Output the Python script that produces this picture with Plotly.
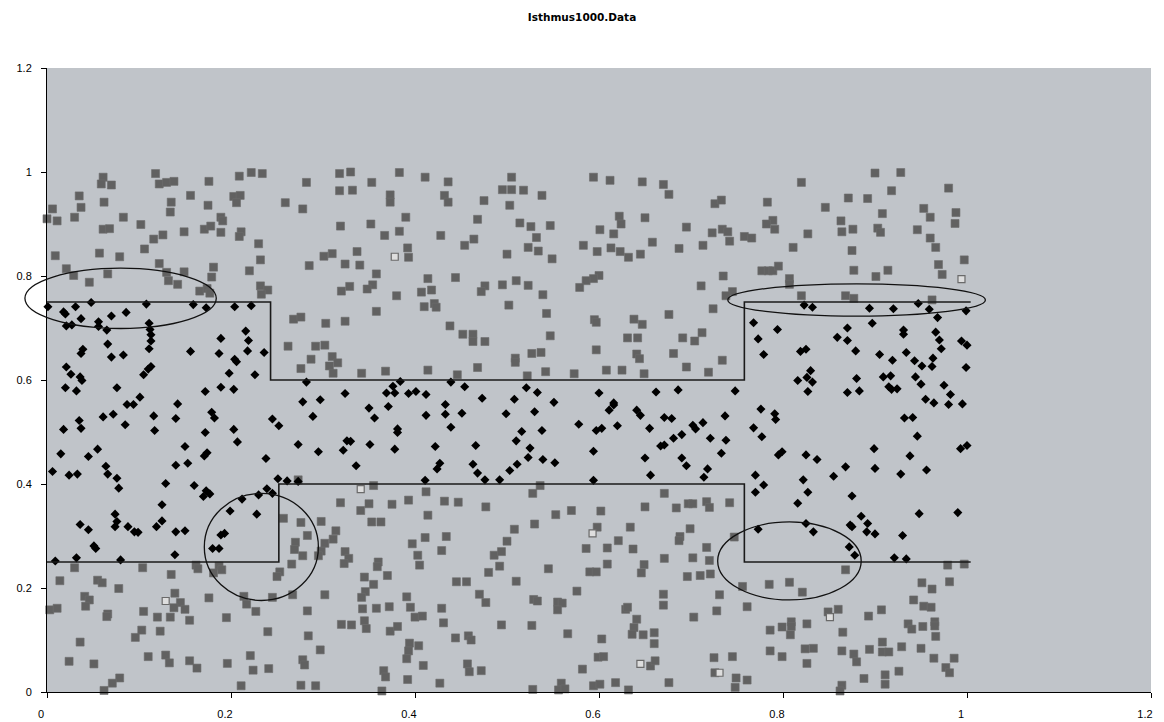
import plotly.graph_objects as go

# Points outside the isthmus (class 0)
gray_points = [
    (0.061,0.990),(0.059,0.977),(0.070,0.975),(0.118,0.997),(0.122,0.977),(0.130,0.980),(0.138,0.982),
    (0.176,0.982),(0.209,0.992),(0.222,0.999),(0.234,0.997),(0.035,0.954),(0.006,0.929),(0.037,0.932),
    (0.062,0.942),(0.156,0.955),(0.135,0.942),(0.134,0.923),(0.175,0.936),(0.203,0.953),(0.210,0.955),
    (0.206,0.941),(0.000,0.910),(0.011,0.906),(0.030,0.913),(0.083,0.913),(0.102,0.899),(0.061,0.890),
    (0.068,0.891),(0.189,0.913),(0.191,0.906),(0.149,0.885),(0.171,0.890),(0.178,0.896),(0.189,0.884),
    (0.126,0.879),(0.116,0.871),(0.211,0.885),(0.209,0.876),(0.230,0.862),(0.009,0.839),(0.057,0.844),
    (0.079,0.837),(0.106,0.852),(0.232,0.831),(0.021,0.814),(0.029,0.801),(0.046,0.788),(0.066,0.804),
    (0.122,0.824),(0.130,0.807),(0.132,0.791),(0.142,0.784),(0.149,0.808),(0.181,0.817),(0.179,0.798),
    (0.166,0.771),(0.174,0.776),(0.177,0.767),(0.220,0.810),(0.232,0.781),(0.240,0.773),(0.233,0.765),
    (0.318,0.997),(0.330,1.000),(0.383,0.999),(0.411,0.990),(0.436,0.981),(0.282,0.980),(0.318,0.964),
    (0.332,0.965),(0.353,0.980),(0.373,0.956),(0.373,0.942),(0.432,0.955),(0.436,0.942),(0.475,0.945),
    (0.495,0.966),(0.259,0.941),(0.278,0.929),(0.319,0.896),(0.352,0.900),(0.390,0.913),(0.367,0.878),
    (0.383,0.886),(0.428,0.878),(0.468,0.909),(0.454,0.859),(0.464,0.871),(0.301,0.838),(0.310,0.843),
    (0.337,0.847),(0.324,0.823),(0.340,0.821),(0.285,0.820),(0.392,0.854),(0.393,0.836),(0.358,0.804),
    (0.414,0.795),(0.444,0.797),(0.495,0.783),(0.476,0.781),(0.472,0.770),(0.329,0.780),(0.320,0.771),
    (0.354,0.783),(0.348,0.775),(0.380,0.762),(0.407,0.769),(0.418,0.773),(0.410,0.741),(0.421,0.747),
    (0.423,0.740),(0.358,0.732),(0.268,0.717),(0.276,0.721),(0.303,0.709),(0.324,0.713),(0.438,0.704),
    (0.452,0.688),(0.463,0.688),(0.463,0.674),(0.476,0.674),
    (0.505,0.990),(0.505,0.966),(0.518,0.965),(0.538,0.955),(0.503,0.936),(0.594,0.990),(0.612,0.984),
    (0.647,0.981),(0.670,0.976),(0.676,0.957),(0.726,0.939),(0.733,0.946),(0.514,0.902),(0.526,0.895),
    (0.547,0.897),(0.532,0.874),(0.523,0.855),(0.534,0.848),(0.500,0.842),(0.549,0.833),(0.622,0.915),
    (0.624,0.900),(0.650,0.912),(0.601,0.889),(0.616,0.881),(0.583,0.859),(0.598,0.847),(0.613,0.854),
    (0.623,0.847),(0.632,0.836),(0.645,0.842),(0.658,0.865),(0.695,0.894),(0.687,0.853),(0.713,0.859),
    (0.723,0.883),(0.734,0.890),(0.740,0.885),(0.742,0.867),(0.600,0.801),(0.594,0.795),(0.586,0.791),
    (0.579,0.778),(0.510,0.791),(0.523,0.782),(0.539,0.764),(0.502,0.744),(0.543,0.728),(0.735,0.800),
    (0.711,0.781),(0.745,0.770),(0.738,0.762),(0.724,0.737),(0.676,0.726),(0.595,0.716),(0.597,0.711),
    (0.638,0.717),(0.647,0.707),(0.631,0.681),(0.642,0.681),(0.547,0.685),(0.691,0.681),(0.712,0.691),
    (0.704,0.675),
    (0.900,0.998),(0.928,0.999),(0.820,0.980),(0.918,0.964),(0.980,0.969),(0.783,0.942),(0.871,0.950),
    (0.892,0.949),(0.846,0.932),(0.908,0.920),(0.953,0.930),(0.960,0.913),(0.988,0.922),(0.987,0.901),
    (0.789,0.907),(0.782,0.900),(0.791,0.890),(0.863,0.906),(0.864,0.885),(0.876,0.890),(0.903,0.892),
    (0.906,0.884),(0.946,0.889),(0.960,0.873),(0.758,0.876),(0.766,0.873),(0.827,0.881),(0.811,0.855),
    (0.875,0.849),(0.966,0.855),(0.997,0.831),(0.969,0.822),(0.973,0.803),(0.777,0.810),(0.784,0.810),
    (0.789,0.810),(0.795,0.819),(0.807,0.795),(0.807,0.784),(0.877,0.811),(0.901,0.799),(0.914,0.811),
    (0.820,0.762),(0.868,0.762),(0.877,0.757),(0.962,0.754),
    (0.262,0.665),(0.292,0.665),(0.302,0.667),(0.287,0.640),(0.276,0.622),(0.310,0.645),(0.316,0.633),
    (0.307,0.627),(0.311,0.613),(0.342,0.613),(0.368,0.617),(0.414,0.619),(0.446,0.610),(0.468,0.624),
    (0.273,0.408),(0.355,0.397),(0.412,0.385),(0.319,0.364),(0.350,0.362),(0.341,0.349),(0.375,0.361),
    (0.393,0.369),(0.432,0.367),(0.447,0.365),(0.477,0.356),(0.414,0.340),(0.257,0.334),(0.276,0.326),
    (0.298,0.328),(0.353,0.327),(0.363,0.327),
    (0.509,0.642),(0.509,0.634),(0.527,0.651),(0.537,0.653),(0.522,0.608),(0.542,0.616),(0.573,0.612),
    (0.597,0.658),(0.608,0.619),(0.625,0.619),(0.641,0.650),(0.644,0.641),(0.649,0.612),(0.681,0.651),
    (0.695,0.625),(0.719,0.615),(0.734,0.638),
    (0.536,0.397),(0.528,0.382),(0.671,0.382),(0.650,0.356),(0.684,0.354),(0.697,0.362),(0.702,0.362),
    (0.717,0.366),(0.720,0.355),(0.742,0.364),(0.553,0.341),(0.570,0.349),(0.602,0.348),
    (0.030,0.239),(0.104,0.239),(0.135,0.226),(0.162,0.244),(0.164,0.237),(0.187,0.242),(0.190,0.235),
    (0.181,0.229),(0.014,0.214),(0.055,0.215),(0.060,0.210),(0.078,0.199),(0.041,0.184),(0.046,0.177),
    (0.042,0.165),(0.139,0.190),(0.145,0.172),(0.138,0.162),(0.150,0.159),(0.176,0.181),(0.003,0.158),
    (0.011,0.161),(0.066,0.150),(0.065,0.145),(0.105,0.155),(0.120,0.144),(0.134,0.144),(0.155,0.138),
    (0.195,0.143),(0.214,0.184),(0.217,0.169),(0.227,0.155),(0.240,0.116),(0.103,0.119),(0.096,0.105),
    (0.123,0.117),(0.036,0.096),(0.024,0.059),(0.051,0.054),(0.110,0.068),(0.129,0.071),(0.133,0.056),
    (0.155,0.060),(0.163,0.046),(0.196,0.055),(0.221,0.070),(0.224,0.042),(0.241,0.045),(0.079,0.027),
    (0.071,0.017),(0.062,0.003),(0.211,0.012),
    (0.314,0.310),(0.283,0.301),(0.270,0.288),(0.269,0.274),(0.278,0.262),(0.266,0.246),(0.253,0.231),
    (0.250,0.222),(0.302,0.286),(0.311,0.294),(0.298,0.271),(0.295,0.262),(0.324,0.270),(0.328,0.257),
    (0.323,0.247),(0.245,0.182),(0.267,0.187),(0.302,0.187),(0.283,0.156),(0.284,0.108),(0.297,0.081),
    (0.278,0.062),(0.280,0.052),(0.276,0.013),(0.292,0.012),(0.360,0.250),(0.359,0.241),(0.370,0.224),
    (0.345,0.221),(0.355,0.207),(0.346,0.193),(0.342,0.182),(0.343,0.160),(0.358,0.161),(0.372,0.164),
    (0.320,0.130),(0.331,0.129),(0.345,0.137),(0.347,0.122),(0.373,0.117),(0.381,0.126),(0.366,0.041),
    (0.368,0.029),(0.364,0.002),(0.391,0.183),(0.395,0.163),(0.400,0.144),(0.408,0.146),(0.397,0.285),
    (0.411,0.297),(0.434,0.299),(0.403,0.263),(0.405,0.244),(0.429,0.272),(0.445,0.212),(0.456,0.212),
    (0.429,0.161),(0.431,0.133),(0.470,0.188),(0.477,0.172),(0.480,0.230),(0.486,0.263),(0.494,0.270),
    (0.492,0.242),(0.394,0.094),(0.393,0.079),(0.391,0.064),(0.404,0.089),(0.409,0.051),(0.392,0.024),
    (0.427,0.017),(0.444,0.104),(0.458,0.108),(0.461,0.100),(0.457,0.054),(0.459,0.039),(0.472,0.041),
    (0.494,0.129),
    (0.530,0.323),(0.598,0.317),(0.634,0.317),(0.508,0.313),(0.500,0.290),(0.586,0.276),(0.609,0.277),
    (0.621,0.291),(0.637,0.275),(0.688,0.299),(0.687,0.291),(0.699,0.314),(0.671,0.257),(0.702,0.258),
    (0.717,0.278),(0.720,0.253),(0.747,0.298),(0.545,0.237),(0.590,0.231),(0.597,0.231),(0.609,0.246),
    (0.649,0.245),(0.646,0.229),(0.696,0.222),(0.710,0.224),(0.721,0.227),(0.510,0.213),(0.576,0.194),
    (0.529,0.178),(0.533,0.175),(0.555,0.173),(0.560,0.171),(0.555,0.158),(0.670,0.188),(0.670,0.167),
    (0.731,0.187),(0.728,0.156),(0.703,0.144),(0.629,0.159),(0.631,0.163),(0.641,0.140),(0.638,0.124),
    (0.636,0.111),(0.648,0.110),(0.660,0.114),(0.660,0.093),(0.527,0.128),(0.566,0.112),(0.603,0.102),
    (0.599,0.067),(0.605,0.068),(0.582,0.044),(0.656,0.050),(0.661,0.060),(0.725,0.066),(0.745,0.068),
    (0.726,0.037),(0.749,0.027),(0.748,0.009),(0.528,0.005),(0.559,0.017),(0.556,0.004),(0.563,0.006),
    (0.594,0.012),(0.601,0.015),(0.618,0.018),(0.632,0.004),(0.676,0.018),
    (0.868,0.235),(0.979,0.244),(0.997,0.246),(0.951,0.210),(0.962,0.198),(0.981,0.212),(0.756,0.203),
    (0.785,0.207),(0.807,0.211),(0.821,0.192),(0.761,0.164),(0.942,0.177),(0.953,0.165),(0.961,0.163),
    (0.849,0.154),(0.860,0.159),(0.907,0.158),(0.893,0.146),(0.786,0.119),(0.799,0.125),(0.809,0.135),
    (0.809,0.126),(0.808,0.110),(0.826,0.131),(0.865,0.115),(0.936,0.131),(0.940,0.121),(0.952,0.126),
    (0.965,0.135),(0.965,0.127),(0.966,0.107),(0.908,0.096),(0.929,0.087),(0.908,0.077),(0.915,0.077),
    (0.894,0.082),(0.786,0.079),(0.799,0.068),(0.824,0.083),(0.833,0.084),(0.864,0.079),(0.877,0.073),
    (0.880,0.058),(0.950,0.084),(0.964,0.065),(0.986,0.065),(0.977,0.047),(0.981,0.037),(0.826,0.055),
    (0.761,0.023),(0.926,0.040),(0.911,0.033),(0.911,0.015),(0.888,0.026),(0.864,0.013),(0.862,0.002),
]

# Points inside the isthmus (class 1)
black_points = [
    (0.001,0.741),(0.018,0.731),(0.020,0.727),(0.031,0.741),(0.048,0.749),(0.037,0.718),(0.070,0.723),
    (0.086,0.730),(0.108,0.746),(0.021,0.704),(0.027,0.706),(0.056,0.712),(0.056,0.703),(0.065,0.696),
    (0.111,0.709),(0.112,0.697),(0.113,0.687),(0.113,0.675),(0.159,0.745),(0.173,0.739),(0.204,0.741),
    (0.222,0.743),(0.189,0.680),(0.216,0.694),(0.219,0.676),
    (0.823,0.744),(0.832,0.740),(0.894,0.738),(0.920,0.737),(0.947,0.747),(0.959,0.736),(0.999,0.733),
    (0.968,0.720),(0.768,0.710),(0.794,0.697),(0.773,0.679),(0.870,0.700),(0.859,0.682),(0.870,0.676),
    (0.897,0.709),(0.931,0.696),(0.931,0.688),(0.966,0.692),(0.970,0.677),(0.994,0.675),
    (0.066,0.669),(0.039,0.659),(0.037,0.651),(0.070,0.644),(0.083,0.648),(0.111,0.660),(0.021,0.625),
    (0.026,0.611),(0.036,0.606),(0.038,0.599),(0.020,0.585),(0.032,0.579),(0.076,0.585),(0.105,0.610),
    (0.113,0.626),(0.110,0.621),(0.156,0.655),(0.187,0.651),(0.204,0.640),(0.206,0.635),(0.218,0.656),
    (0.236,0.653),(0.198,0.613),(0.226,0.610),(0.172,0.578),(0.189,0.586),(0.203,0.582),(0.101,0.567),
    (0.087,0.553),(0.094,0.553),(0.142,0.554),(0.061,0.529),(0.072,0.534),(0.116,0.531),(0.140,0.526),
    (0.179,0.538),(0.182,0.527),(0.035,0.522),(0.037,0.507),(0.018,0.505),(0.085,0.514),(0.117,0.503),
    (0.172,0.499),(0.203,0.505),(0.207,0.481),(0.015,0.458),(0.055,0.467),(0.045,0.453),(0.150,0.472),
    (0.174,0.460),(0.171,0.454),(0.238,0.449),(0.006,0.424),(0.024,0.417),(0.033,0.419),(0.064,0.434),
    (0.066,0.419),(0.076,0.411),(0.078,0.392),(0.140,0.436),(0.153,0.440),(0.129,0.401),(0.160,0.397),
    (0.173,0.387),(0.177,0.381),(0.170,0.376),(0.125,0.360),(0.239,0.391),(0.230,0.379),(0.212,0.371),
    (0.199,0.348),(0.228,0.342),(0.074,0.342),(0.076,0.328),(0.125,0.329),
    (0.282,0.596),(0.384,0.597),(0.376,0.588),(0.369,0.575),(0.378,0.575),(0.393,0.574),(0.401,0.578),
    (0.412,0.572),(0.439,0.596),(0.454,0.587),(0.473,0.565),(0.324,0.574),(0.278,0.558),(0.297,0.562),
    (0.350,0.546),(0.371,0.549),(0.356,0.527),(0.289,0.530),(0.245,0.525),(0.252,0.512),(0.412,0.532),
    (0.433,0.553),(0.433,0.534),(0.451,0.536),(0.381,0.506),(0.381,0.499),(0.439,0.509),(0.273,0.476),
    (0.326,0.483),(0.330,0.482),(0.322,0.465),(0.295,0.462),(0.351,0.476),(0.378,0.467),(0.422,0.472),
    (0.466,0.474),(0.336,0.435),(0.427,0.440),(0.424,0.429),(0.463,0.438),(0.468,0.421),(0.476,0.408),
    (0.492,0.408),(0.251,0.410),(0.261,0.406),(0.273,0.405),(0.411,0.407),(0.245,0.382),
    (0.521,0.585),(0.533,0.576),(0.508,0.563),(0.499,0.535),(0.530,0.539),(0.551,0.557),(0.600,0.575),
    (0.616,0.556),(0.616,0.552),(0.611,0.542),(0.641,0.542),(0.645,0.532),(0.662,0.577),(0.686,0.581),
    (0.748,0.579),(0.578,0.515),(0.597,0.503),(0.603,0.507),(0.620,0.512),(0.655,0.507),(0.671,0.528),
    (0.679,0.526),(0.516,0.501),(0.538,0.503),(0.510,0.483),(0.525,0.469),(0.523,0.451),(0.539,0.447),
    (0.552,0.441),(0.511,0.438),(0.503,0.426),(0.594,0.463),(0.594,0.407),(0.650,0.450),(0.656,0.417),
    (0.667,0.473),(0.671,0.475),(0.681,0.488),(0.690,0.495),(0.702,0.513),(0.705,0.506),(0.713,0.518),
    (0.721,0.488),(0.737,0.531),(0.738,0.484),(0.733,0.459),(0.690,0.450),(0.695,0.435),(0.718,0.429),
    (0.714,0.413),
    (1.000,0.667),(0.972,0.660),(0.779,0.649),(0.819,0.655),(0.825,0.659),(0.879,0.656),(0.905,0.649),
    (0.919,0.638),(0.934,0.653),(0.943,0.637),(0.951,0.627),(0.963,0.642),(0.962,0.626),(0.999,0.624),
    (0.830,0.618),(0.816,0.599),(0.826,0.605),(0.832,0.596),(0.827,0.578),(0.880,0.603),(0.870,0.576),
    (0.883,0.579),(0.909,0.606),(0.917,0.608),(0.915,0.587),(0.918,0.582),(0.924,0.583),(0.944,0.606),
    (0.950,0.592),(0.975,0.590),(0.982,0.572),(0.955,0.563),(0.964,0.556),(0.980,0.553),(0.995,0.554),
    (0.776,0.544),(0.791,0.535),(0.792,0.524),(0.768,0.508),(0.777,0.491),(0.932,0.527),(0.941,0.528),
    (0.946,0.492),(0.795,0.456),(0.799,0.462),(0.825,0.456),(0.837,0.447),(0.899,0.468),(0.938,0.454),
    (0.993,0.468),(1.000,0.474),(0.868,0.433),(0.855,0.415),(0.900,0.430),(0.928,0.419),(0.956,0.427),
    (0.770,0.417),(0.779,0.398),(0.770,0.384),(0.822,0.408),(0.827,0.384),(0.816,0.363),(0.875,0.377),
    (0.948,0.343),(0.990,0.345),(0.885,0.338),
    (0.036,0.322),(0.045,0.312),(0.074,0.318),(0.088,0.318),(0.095,0.308),(0.099,0.307),(0.119,0.318),
    (0.140,0.308),(0.150,0.310),(0.051,0.281),(0.053,0.276),(0.180,0.276),(0.187,0.276),(0.189,0.302),
    (0.193,0.305),(0.009,0.252),(0.032,0.258),(0.080,0.254),(0.139,0.264),
    (0.773,0.313),(0.825,0.324),(0.833,0.308),(0.873,0.321),(0.875,0.318),(0.892,0.324),(0.891,0.308),
    (0.900,0.304),(0.930,0.301),(0.872,0.279),(0.878,0.263),(0.921,0.258),(0.934,0.256),
]

# Misclassified points (drawn hollow)
hollow_points = [
    (0.378,0.837),(0.994,0.794),(0.341,0.390),(0.129,0.175),(0.593,0.305),(0.645,0.054),
    (0.731,0.037),(0.851,0.144),
]

# Isthmus boundary polylines
upper_x = [0.0, 0.243, 0.243, 0.758, 0.758, 1.004]
upper_y = [0.75, 0.75, 0.60, 0.60, 0.75, 0.75]
lower_x = [0.0, 0.252, 0.252, 0.758, 0.758, 1.004]
lower_y = [0.25, 0.25, 0.40, 0.40, 0.25, 0.25]

# Highlighted regions: centre and half-widths in data units
ellipse_cx = [0.080, 0.880, 0.233, 0.807]
ellipse_cy = [0.757, 0.754, 0.279, 0.252]
ellipse_rx = [0.104, 0.140, 0.062, 0.078]
ellipse_ry = [0.058, 0.031, 0.103, 0.075]

x_range = [0, 1.2]
y_range = [0, 1.2]

fig = go.Figure()

gx, gy = zip(*gray_points)
fig.add_trace(go.Scatter(
    x=gx, y=gy, mode="markers", cliponaxis=False,
    marker=dict(symbol="square", size=8, color="#616161",
                line=dict(color="#6c6c6c", width=0.6)),
))

hx, hy = zip(*hollow_points)
fig.add_trace(go.Scatter(
    x=hx, y=hy, mode="markers", cliponaxis=False,
    marker=dict(symbol="square", size=7, color="#dedede",
                line=dict(color="#6a6a6a", width=1.2)),
))

bx, by = zip(*black_points)
fig.add_trace(go.Scatter(
    x=bx, y=by, mode="markers", cliponaxis=False,
    marker=dict(symbol="diamond", size=7, color="#000000"),
))

for lx, ly in ((upper_x, upper_y), (lower_x, lower_y)):
    fig.add_trace(go.Scatter(
        x=lx, y=ly, mode="lines",
        line=dict(color="#1a1a1a", width=1.6),
    ))

# Ellipses placed in axis-domain fractions so they may extend past the axes
xs = x_range[1] - x_range[0]
ys = y_range[1] - y_range[0]
for cx, cy, rx, ry in zip(ellipse_cx, ellipse_cy, ellipse_rx, ellipse_ry):
    fig.add_shape(
        type="circle", xref="x domain", yref="y domain",
        x0=(cx - rx - x_range[0]) / xs, x1=(cx + rx - x_range[0]) / xs,
        y0=(cy - ry - y_range[0]) / ys, y1=(cy + ry - y_range[0]) / ys,
        line=dict(color="#111111", width=1.3), layer="above",
    )

axis_common = dict(
    showgrid=False, zeroline=False, showline=True, linecolor="#000000", linewidth=1,
    ticks="outside", ticklen=5, tickcolor="#000000", tickwidth=1,
    dtick=0.2, tick0=0, automargin=False,
    tickfont=dict(family="Liberation Sans, Arial, sans-serif", size=11, color="#000000"),
)

fig.update_layout(
    width=1164, height=722,
    margin=dict(l=47, r=13, t=68, b=30),
    paper_bgcolor="#ffffff", plot_bgcolor="#c0c4c9",
    showlegend=False,
    title=dict(
        text="<b>Isthmus1000.Data</b>", x=0.5, xref="container", xanchor="center",
        y=1 - 17 / 722, yref="container", yanchor="middle",
        font=dict(family="DejaVu Sans, Verdana, sans-serif", size=10.5, color="#000000"),
    ),
    xaxis=dict(range=x_range, ticklabelshift=-6, ticklabelstandoff=7, **axis_common),
    yaxis=dict(range=y_range, ticklabelstandoff=7, **axis_common),
)

fig.write_html("out.html")
